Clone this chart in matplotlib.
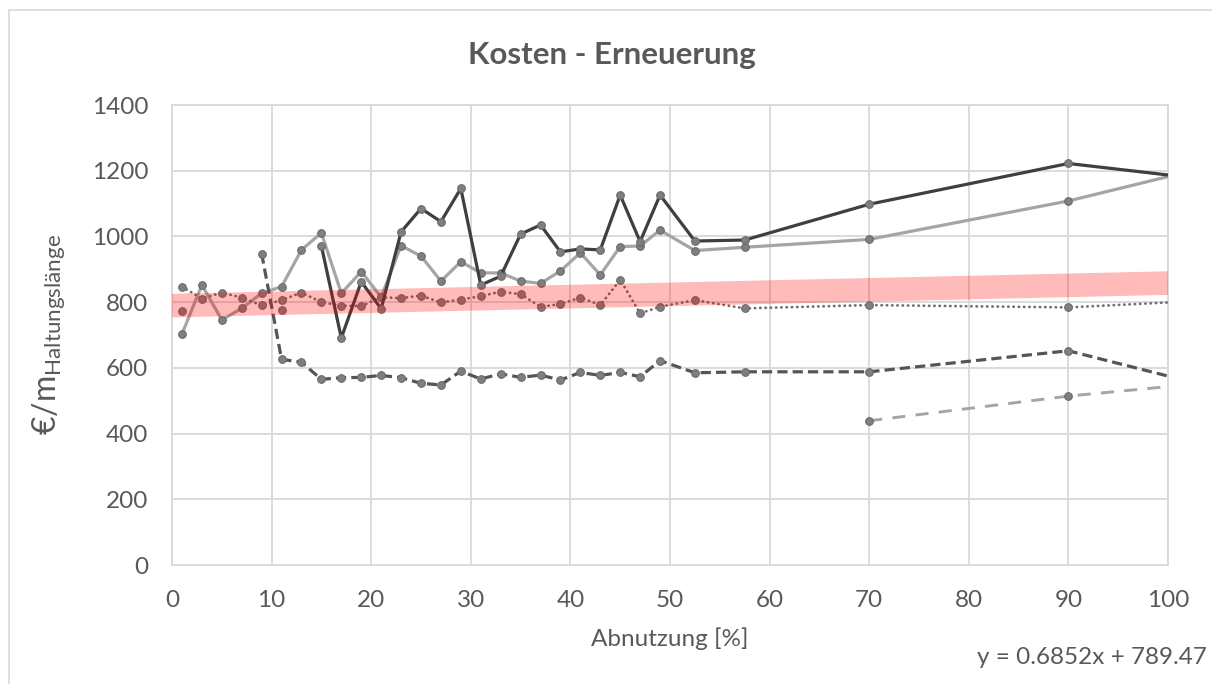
import numpy as np
import matplotlib
matplotlib.use("Agg")
import matplotlib.pyplot as plt
from matplotlib.lines import Line2D

plt.rcParams['font.family'] = ['Lato', 'DejaVu Sans']
plt.rcParams['mathtext.default'] = 'regular'

# ---- data ----
x_vals = [1, 3, 5, 7, 9, 11, 13, 15, 17, 19, 21, 23, 25, 27, 29, 31, 33, 35, 37, 39,
          41, 43, 45, 47, 49, 52.5, 57.5, 70, 90, 100]
dark_solid = [774, None, None, None, None, 776, None, 971, 691, 862, 780, 1014, 1085, 1045, 1146,
              852, 879, 1007, 1035, 953, 962, 959, 1126, 984, 1126, 986, 989, 1098, 1222, 1187]
light_solid = [703, 852, 746, 781, 827, 847, 959, 1011, 827, 893, 815, 972, 940, 864, 923,
               889, 889, 864, 857, 895, 950, 883, 969, 971, 1019, 957, 967, 991, 1108, 1182]
dotted = [847, 811, 829, 814, 790, 806, 829, 800, 789, 788, 815, 812, 820, 799, 808,
          818, 832, 824, 786, 794, 814, 791, 868, 766, 786, 806, 781, 791, 784, 799]
dashed_dark = [None, None, None, None, 948, 626, 617, 565, 570, 571, 577, 570, 553, 548, 590,
               566, 582, 571, 578, 563, 586, 577, 586, 573, 622, 585, 588, 588, 652, 575]
x_light_dashed = [70, 90, 100]
light_dashed = [439, 514, 543]

trend_slope = 0.6852
trend_intercept = 789.47
trend_x = [0, 100]

x_ticks = [0, 10, 20, 30, 40, 50, 60, 70, 80, 90, 100]
y_ticks = [0, 200, 400, 600, 800, 1000, 1200, 1400]

def arr(v):
    return np.array([np.nan if a is None else a for a in v], dtype=float)

W, H = 1212, 684
fig = plt.figure(figsize=(W / 100, H / 100), dpi=100)
fig.patch.set_facecolor('white')
ax = fig.add_axes([172 / W, 1 - 565 / H, (1168 - 172) / W, (565 - 105) / H])

txt_col = '#595959'
grid_col = '#d9d9d9'
marker_kw = dict(marker='o', markersize=5.5, markerfacecolor='#7f7f7f', markeredgecolor='#6b6b6b',
                 markeredgewidth=0.8)

n = len(x_vals)
me_all_but_last = list(range(n - 1))

ax.plot(x_vals, arr(dark_solid), color='#3f3f3f', lw=2.3, zorder=4, markevery=me_all_but_last, **marker_kw)
ax.plot(x_vals, arr(light_solid), color='#a5a5a5', lw=2.3, zorder=3, markevery=me_all_but_last, **marker_kw)
ax.plot(x_vals, arr(dotted), color='#6f6f6f', lw=2.0, linestyle=(0, (0.1, 1.8)),
        dash_capstyle='round', zorder=3, markevery=me_all_but_last, **marker_kw)
ax.plot(x_vals, arr(dashed_dark), color='#555555', lw=2.3, linestyle=(0, (3.2, 1.6)),
        zorder=3, markevery=me_all_but_last, **marker_kw)
ax.plot(x_light_dashed, light_dashed, color='#a5a5a5', lw=2.1, linestyle=(0, (4.5, 3.5)),
        zorder=3, markevery=[0, 1], **marker_kw)

trend_y = [trend_slope * xx + trend_intercept for xx in trend_x]
ax.plot(trend_x, trend_y, color='#ff0000', alpha=0.27, lw=17, solid_capstyle='butt', zorder=6)

ax.set_xlim(0, 100)
ax.set_ylim(0, 1400)
ax.set_xticks(x_ticks)
ax.set_yticks(y_ticks)
ax.grid(True, color=grid_col, lw=1.3, zorder=0)
ax.set_axisbelow(True)
for s in ax.spines.values():
    s.set_color(grid_col)
    s.set_linewidth(1.3)
ax.tick_params(length=0, labelsize=17.5, colors=txt_col)
ax.tick_params(axis='y', pad=17)
ax.tick_params(axis='x', pad=18)

ax.set_xlabel('Abnutzung [%]', fontsize=17.5, color=txt_col, labelpad=12)
ax.set_ylabel('€/m$_{Haltungslänge}$', fontsize=23, color=txt_col, labelpad=18)

fig.text(612 / W, 1 - 55 / H, 'Kosten - Erneuerung', ha='center', va='center',
         fontsize=22.5, fontweight='bold', color=txt_col)
fig.text(1207 / W, 1 - 658 / H, 'y = 0.6852x + 789.47', ha='right', va='center',
         fontsize=17.5, color=txt_col)

# chart border (top and left visible)
fig.add_artist(Line2D([9 / W, 9 / W], [0, 1 - 10 / H], color='#d9d9d9', lw=1.2))
fig.add_artist(Line2D([9 / W, 1], [1 - 10 / H, 1 - 10 / H], color='#d9d9d9', lw=1.2))

fig.savefig('out.png', dpi=100, facecolor='white')
